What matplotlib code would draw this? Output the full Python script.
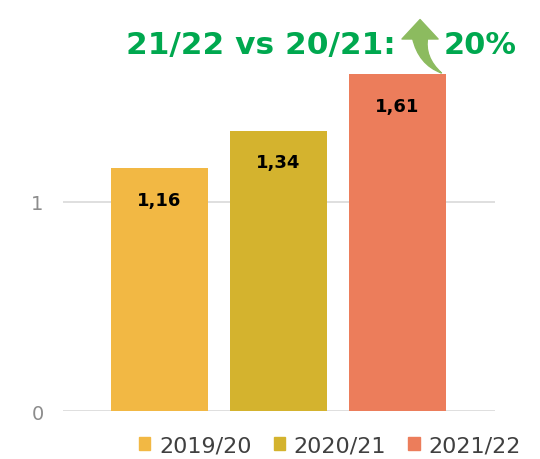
import matplotlib.pyplot as plt
from matplotlib.patches import FancyArrowPatch

# dados
temporadas = ["2019/20", "2020/21", "2021/22"]
valores = [1.16, 1.34, 1.61]
rotulos = ["1,16", "1,34", "1,61"]
cores = ["#f2b844", "#d4b32e", "#ec7d5b"]

plt.rcParams['font.family'] = ['DejaVu Sans']

fig = plt.figure(figsize=(5.4, 4.6), dpi=100)
ax = fig.add_axes([0.1167, 0.1043, 0.8, 0.8957])

x = list(range(len(valores)))
ax.bar(x, valores, width=0.82, color=cores, zorder=3)

# rotulos dentro das barras
for xi, v, r in zip(x, valores, rotulos):
    ax.text(xi, v - 0.15, r, ha='center', va='center', fontsize=13,
            fontweight='bold', color='black', zorder=4)

ax.set_xlim(-0.81, 2.82)
ax.set_ylim(0, 1.97)
ax.set_yticks([0, 1])
ax.set_yticklabels(["0", "1"], fontsize=14, color='#8c8c8c')
ax.set_xticks([])
ax.tick_params(axis='y', length=0, pad=14)
ax.grid(axis='y', color='#d9d9d9', linewidth=1.2, zorder=0)
for s in ax.spines.values():
    s.set_visible(False)

# titulo verde com seta
fig.text(0.233, 0.902, "21/22 vs 20/21:", fontsize=22.5, fontweight='bold',
         color='#00a84f', ha='left', va='center')
fig.text(0.957, 0.902, "20%", fontsize=22, fontweight='bold',
         color='#00a84f', ha='right', va='center')

# seta curva: corpo afunilado + ponta
verde_seta = '#8cbb5f'
corpo = FancyArrowPatch((2.19, 1.80), (2.39, valores[2]),
                        connectionstyle="arc3,rad=0.3",
                        arrowstyle="wedge,tail_width=11,shrink_factor=0.5",
                        color=verde_seta, zorder=5, clip_on=False)
ax.add_patch(corpo)
ponta = FancyArrowPatch((2.19, 1.78), (2.19, 1.885),
                        arrowstyle="simple,head_width=26,head_length=14,tail_width=8",
                        color=verde_seta, zorder=5, clip_on=False)
ax.add_patch(ponta)

# legenda
hs = [plt.Rectangle((0, 0), 1, 1, color=c) for c in cores]
fig.legend(hs, temporadas, loc='center', bbox_to_anchor=(0.611, 0.03), ncol=3,
           frameon=False, fontsize=16, handlelength=0.5, handleheight=0.5,
           handletextpad=0.4, columnspacing=1.0, labelcolor='#404040')

fig.savefig("out.png", dpi=100)
